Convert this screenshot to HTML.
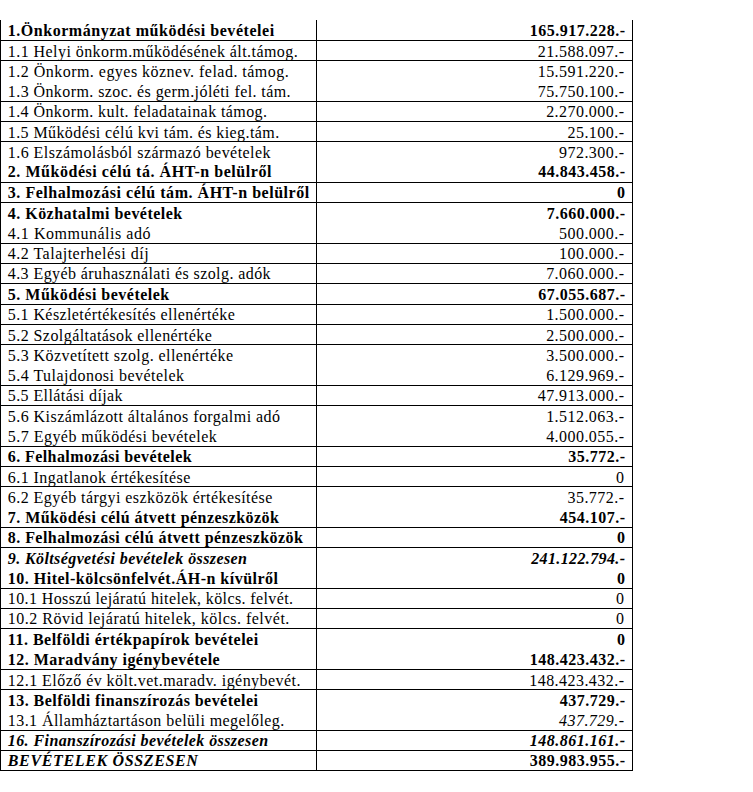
<!DOCTYPE html><html><head><meta charset="utf-8"><style>
html,body{margin:0;padding:0;background:#fff;}
body{width:753px;height:792px;position:relative;overflow:hidden;font-family:"Liberation Serif",serif;color:#000;}
.r{position:absolute;left:0;width:632px;height:20px;}
.l,.v{position:absolute;top:0;white-space:nowrap;line-height:20px;font-size:16.0px;letter-spacing:0.45px;}
.l{left:7.8px;transform-origin:0 50%;transform:scaleX(1.0);}
.v{right:8.0px;transform-origin:100% 50%;transform:scaleX(1.0);}
.v{margin-right:-0.45px}
.b{font-weight:bold;font-size:16.0px;letter-spacing:0.5px;transform:scaleX(1.0);}
.bi{font-weight:bold;font-size:16.0px;letter-spacing:0.37px;transform:scaleX(1.0);}
.v.b{margin-right:-0.5px;right:7.0px}
.v.bi{margin-right:-0.37px;right:7.0px}
.i,.bi{font-style:italic}
.hl{position:absolute;left:0;width:633px;height:1px;background:#000}
.vl{position:absolute;top:20px;width:1px;height:751px;background:#000}
</style></head><body>
<div class="r" style="top:20.60px"><span class="l b" style="letter-spacing:0.53px">1.Önkormányzat működési bevételei</span><span class="v b">165.917.228.-</span></div>
<div class="r" style="top:41.88px"><span class="l n" style="letter-spacing:0.438px">1.1 Helyi önkorm.működésének ált.támog.</span><span class="v n">21.588.097.-</span></div>
<div class="r" style="top:62.16px"><span class="l n" style="letter-spacing:0.474px">1.2 Önkorm. egyes köznev. felad. támog.</span><span class="v n">15.591.220.-</span></div>
<div class="r" style="top:82.43px"><span class="l n" style="letter-spacing:0.417px">1.3 Önkorm. szoc. és germ.jóléti fel. tám.</span><span class="v n">75.750.100.-</span></div>
<div class="r" style="top:101.71px"><span class="l n" style="letter-spacing:0.412px">1.4 Önkorm. kult. feladatainak támog.</span><span class="v n">2.270.000.-</span></div>
<div class="r" style="top:122.99px"><span class="l n" style="letter-spacing:0.405px">1.5 Működési célú kvi tám. és kieg.tám.</span><span class="v n">25.100.-</span></div>
<div class="r" style="top:143.27px"><span class="l n" style="letter-spacing:0.45px">1.6 Elszámolásból származó bevételek</span><span class="v n">972.300.-</span></div>
<div class="r" style="top:161.55px"><span class="l b" style="letter-spacing:0.541px">2. Működési célú tá. ÁHT-n belülről</span><span class="v b">44.843.458.-</span></div>
<div class="r" style="top:182.82px"><span class="l b" style="letter-spacing:0.53px">3. Felhalmozási célú tám. ÁHT-n belülről</span><span class="v b">0</span></div>
<div class="r" style="top:204.10px"><span class="l b" style="letter-spacing:0.475px">4. Közhatalmi bevételek</span><span class="v b">7.660.000.-</span></div>
<div class="r" style="top:224.38px"><span class="l n" style="letter-spacing:0.524px">4.1 Kommunális adó</span><span class="v n">500.000.-</span></div>
<div class="r" style="top:243.66px"><span class="l n" style="letter-spacing:0.488px">4.2 Talajterhelési díj</span><span class="v n">100.000.-</span></div>
<div class="r" style="top:263.94px"><span class="l n" style="letter-spacing:0.413px">4.3 Egyéb áruhasználati és szolg. adók</span><span class="v n">7.060.000.-</span></div>
<div class="r" style="top:285.21px"><span class="l b" style="letter-spacing:0.496px">5. Működési bevételek</span><span class="v b">67.055.687.-</span></div>
<div class="r" style="top:305.49px"><span class="l n" style="letter-spacing:0.404px">5.1 Készletértékesítés ellenértéke</span><span class="v n">1.500.000.-</span></div>
<div class="r" style="top:325.77px"><span class="l n" style="letter-spacing:0.432px">5.2 Szolgáltatások ellenértéke</span><span class="v n">2.500.000.-</span></div>
<div class="r" style="top:346.05px"><span class="l n" style="letter-spacing:0.429px">5.3 Közvetített szolg. ellenértéke</span><span class="v n">3.500.000.-</span></div>
<div class="r" style="top:366.33px"><span class="l n" style="letter-spacing:0.474px">5.4 Tulajdonosi bevételek</span><span class="v n">6.129.969.-</span></div>
<div class="r" style="top:385.60px"><span class="l n" style="letter-spacing:0.403px">5.5 Ellátási díjak</span><span class="v n">47.913.000.-</span></div>
<div class="r" style="top:406.88px"><span class="l n" style="letter-spacing:0.447px">5.6 Kiszámlázott általános forgalmi adó</span><span class="v n">1.512.063.-</span></div>
<div class="r" style="top:427.16px"><span class="l n" style="letter-spacing:0.468px">5.7 Egyéb működési bevételek</span><span class="v n">4.000.055.-</span></div>
<div class="r" style="top:447.44px"><span class="l b" style="letter-spacing:0.417px">6. Felhalmozási bevételek</span><span class="v b">35.772.-</span></div>
<div class="r" style="top:467.72px"><span class="l n" style="letter-spacing:0.441px">6.1 Ingatlanok értékesítése</span><span class="v n">0</span></div>
<div class="r" style="top:487.99px"><span class="l n" style="letter-spacing:0.445px">6.2 Egyéb tárgyi eszközök értékesítése</span><span class="v n">35.772.-</span></div>
<div class="r" style="top:508.27px"><span class="l b" style="letter-spacing:0.446px">7. Működési célú átvett pénzeszközök</span><span class="v b">454.107.-</span></div>
<div class="r" style="top:527.55px"><span class="l b" style="letter-spacing:0.445px">8. Felhalmozási célú átvett pénzeszközök</span><span class="v b">0</span></div>
<div class="r" style="top:548.83px"><span class="l bi" style="letter-spacing:0.394px">9. Költségvetési bevételek összesen</span><span class="v bi">241.122.794.-</span></div>
<div class="r" style="top:569.11px"><span class="l b" style="letter-spacing:0.495px">10. Hitel-kölcsönfelvét.ÁH-n kívülről</span><span class="v b">0</span></div>
<div class="r" style="top:589.38px"><span class="l n" style="letter-spacing:0.381px">10.1 Hosszú lejáratú hitelek, kölcs. felvét.</span><span class="v n">0</span></div>
<div class="r" style="top:608.66px"><span class="l n" style="letter-spacing:0.493px">10.2 Rövid lejáratú hitelek, kölcs. felvét.</span><span class="v n">0</span></div>
<div class="r" style="top:629.94px"><span class="l b" style="letter-spacing:0.496px">11. Belföldi értékpapírok bevételei</span><span class="v b">0</span></div>
<div class="r" style="top:650.22px"><span class="l b" style="letter-spacing:0.476px">12. Maradvány igénybevétele</span><span class="v b">148.423.432.-</span></div>
<div class="r" style="top:670.50px"><span class="l n" style="letter-spacing:0.456px">12.1 Előző év költ.vet.maradv. igénybevét.</span><span class="v n">148.423.432.-</span></div>
<div class="r" style="top:690.77px"><span class="l b" style="letter-spacing:0.45px">13. Belföldi finanszírozás bevételei</span><span class="v b">437.729.-</span></div>
<div class="r" style="top:711.05px"><span class="l n" style="letter-spacing:0.435px">13.1 Államháztartáson belüli megelőleg.</span><span class="v i">437.729.-</span></div>
<div class="r" style="top:731.33px"><span class="l bi" style="letter-spacing:0.414px">16. Finanszírozási bevételek összesen</span><span class="v bi" style="letter-spacing:0.5px;margin-right:-0.5px">148.861.161.-</span></div>
<div class="r" style="top:750.61px"><span class="l bi" style="letter-spacing:0.642px">BEVÉTELEK ÖSSZESEN</span><span class="v b">389.983.955.-</span></div>
<div class="hl" style="top:40px"></div>
<div class="hl" style="top:60px"></div>
<div class="hl" style="top:101px"></div>
<div class="hl" style="top:121px"></div>
<div class="hl" style="top:141px"></div>
<div class="hl" style="top:182px"></div>
<div class="hl" style="top:202px"></div>
<div class="hl" style="top:243px"></div>
<div class="hl" style="top:263px"></div>
<div class="hl" style="top:283px"></div>
<div class="hl" style="top:304px"></div>
<div class="hl" style="top:324px"></div>
<div class="hl" style="top:344px"></div>
<div class="hl" style="top:385px"></div>
<div class="hl" style="top:405px"></div>
<div class="hl" style="top:446px"></div>
<div class="hl" style="top:466px"></div>
<div class="hl" style="top:486px"></div>
<div class="hl" style="top:527px"></div>
<div class="hl" style="top:547px"></div>
<div class="hl" style="top:588px"></div>
<div class="hl" style="top:608px"></div>
<div class="hl" style="top:628px"></div>
<div class="hl" style="top:669px"></div>
<div class="hl" style="top:689px"></div>
<div class="hl" style="top:730px"></div>
<div class="hl" style="top:750px"></div>
<div class="hl" style="top:770px"></div>
<div class="vl" style="left:0px"></div>
<div class="vl" style="left:316px"></div>
<div class="vl" style="left:632px"></div>
</body></html>
